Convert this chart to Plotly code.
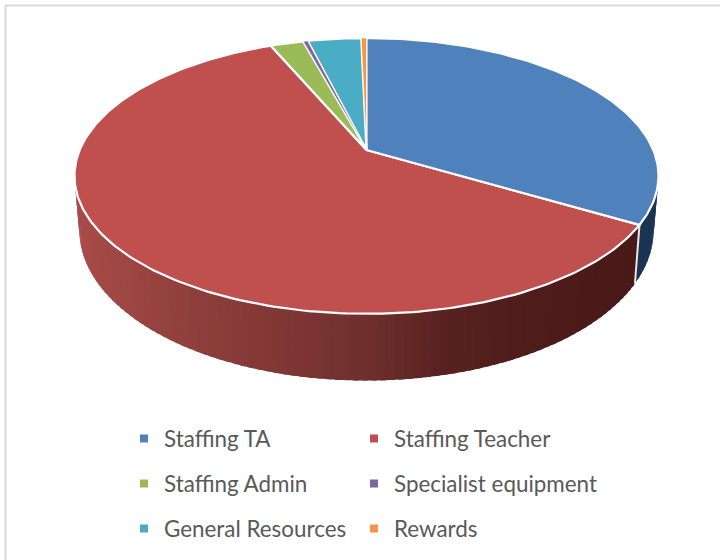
import numpy as np
import plotly.graph_objects as go

# Data (share of total, %)
categories = ["Staffing TA", "Staffing Teacher", "Staffing Admin",
              "Specialist equipment", "General Resources", "Rewards"]
shares = [33.5, 60.1, 2.2, 0.3, 3.55, 0.35]
colors = ["#4f81bd", "#c0504d", "#9bbb59", "#8064a2", "#4bacc6", "#f79646"]

# Perspective of the tilted disc
CX = 366.5
TILT = 0.188
TOP_DISC = dict(a=286.8, b=133.0, y0=150.0)
BOTTOM_DISC = dict(a=282.0, b=145.0, y0=202.0)

# Side-wall shading by screen x
WALL_X = [75, 170, 300, 366, 440, 530, 640]
WALL_TEACHER_R = [170, 146, 124, 110, 88, 78, 72]
WALL_TEACHER_G = [76, 65, 53, 47, 34, 28, 25]
WALL_TEACHER_B = [73, 62, 51, 45, 32, 27, 24]
WALL_TA = "#1b3452"


def project(theta, disc):
    """theta: radians clockwise from the far (top) point of the disc."""
    X, Y = np.sin(theta), np.cos(theta)
    w = 1 + TILT * Y
    return CX + disc["a"] * X / w, disc["y0"] - disc["b"] * Y / w


def wall_color(x, i):
    if i == 0:
        return WALL_TA
    if i != 1:
        return colors[i]
    r = np.interp(x, WALL_X, WALL_TEACHER_R)
    g = np.interp(x, WALL_X, WALL_TEACHER_G)
    b = np.interp(x, WALL_X, WALL_TEACHER_B)
    return f"rgb({r:.0f},{g:.0f},{b:.0f})"


total = sum(shares)
edges = np.concatenate([[0], np.cumsum(shares)]) / total * 2 * np.pi
fig = go.Figure()

# Side wall: thin overlapping strips along the visible rim
for i in range(len(shares)):
    n = max(2, int(np.degrees(edges[i + 1] - edges[i]) / 1.5))
    t = np.linspace(edges[i], edges[i + 1], n + 1)
    step = t[1] - t[0]
    for t0, t1 in zip(t[:-1], t[1:]):
        tm = (t0 + t1) / 2
        if np.cos(tm) > 0.25:
            continue
        arc = np.array([max(edges[i], t0 - step * 0.6), t1])
        xu, yu = project(arc, TOP_DISC)
        xl, yl = project(arc[::-1], BOTTOM_DISC)
        col = wall_color(float((xu.mean() + xl.mean()) / 2), i)
        fig.add_trace(go.Scatter(
            x=np.r_[xu, xl, xu[0]], y=np.r_[yu, yl, yu[0]], mode="lines",
            fill="toself", fillcolor=col, line=dict(width=0),
            hoverinfo="skip", showlegend=False))

# Separators on the wall where a slice boundary faces the viewer
for e in edges[1:-1]:
    if np.cos(e) < 0:
        xu, yu = project(np.array([e]), TOP_DISC)
        xl, yl = project(np.array([e]), BOTTOM_DISC)
        fig.add_trace(go.Scatter(
            x=[xu[0], xl[0]], y=[yu[0], yl[0]], mode="lines",
            line=dict(color="#e6e6e6", width=2),
            hoverinfo="skip", showlegend=False))

# Top face: large slices first so narrow slices keep their colour on top
for i in sorted(range(len(shares)), key=lambda k: -shares[k]):
    name = categories[i]
    t = np.linspace(edges[i], edges[i + 1], max(3, int(np.degrees(edges[i + 1] - edges[i])) + 2))
    x, y = project(t, TOP_DISC)
    fig.add_trace(go.Scatter(
        x=np.r_[CX, x, CX], y=np.r_[TOP_DISC["y0"], y, TOP_DISC["y0"]],
        mode="lines", fill="toself", fillcolor=colors[i],
        line=dict(color="white", width=2.2 if shares[i] > 1 else 0.7),
        name=name, showlegend=False,
        text=f"{name}: {shares[i]}%", hoverinfo="text"))

# Legend entries: one legend box per cell of the 2 x 3 grid
LEGEND_COL_PX = [124, 354]
LEGEND_ROW_PX = [439, 484, 529]
legend_layout = {}
for i, name in enumerate(categories):
    key = "legend" if i == 0 else f"legend{i + 1}"
    fig.add_trace(go.Scatter(
        x=[None], y=[None], mode="markers", name=name, legend=key,
        marker=dict(symbol="square", size=8, color=colors[i])))
    legend_layout[key] = dict(
        x=LEGEND_COL_PX[i % 2] / 720, xanchor="left",
        y=1 - LEGEND_ROW_PX[i // 2] / 560, yanchor="middle",
        font=dict(family="Lato", size=22.4, color="#595959"),
        bgcolor="rgba(0,0,0,0)")

fig.update_layout(
    width=720, height=560, margin=dict(l=0, r=0, t=0, b=0),
    paper_bgcolor="white", plot_bgcolor="white",
    xaxis=dict(range=[0, 720], visible=False, fixedrange=True),
    yaxis=dict(range=[560, 0], visible=False, fixedrange=True),
    shapes=[
        dict(type="line", xref="paper", yref="paper", x0=5.5 / 720, x1=5.5 / 720,
             y0=0, y1=1 - 5 / 560, line=dict(color="#d9d9d9", width=2)),
        dict(type="line", xref="paper", yref="paper", x0=5 / 720, x1=1,
             y0=1 - 5.5 / 560, y1=1 - 5.5 / 560, line=dict(color="#d9d9d9", width=2)),
    ],
    **legend_layout,
)
fig.write_html("out.html", config={"displayModeBar": False},
               post_script="document.body.style.margin='0';document.body.style.overflow='hidden';")
